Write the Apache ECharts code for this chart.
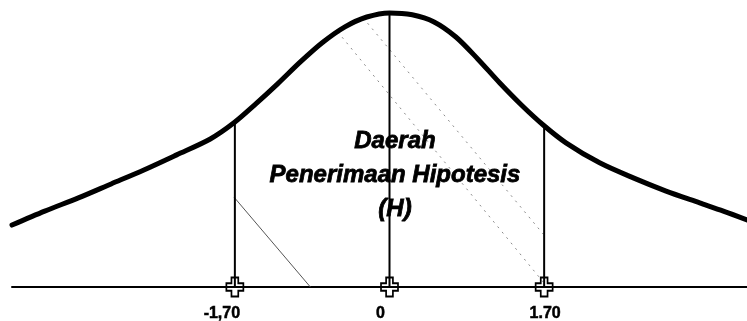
<!DOCTYPE html>
<html>
<head>
    <meta charset="utf-8">
    <title>Daerah Penerimaan Hipotesis</title>
    <script src="https://cdn.jsdelivr.net/npm/echarts@6/dist/echarts.min.js"></script>
    <style>
        *{
            padding: 0;
            margin: 0;
        }
        html, body{
            width: 100%;
            height: 100%;
            background: #fff;
        }
        #chart{
            width: 747px;
            height: 321px;
        }
    </style>
</head>
<body>
<div id="chart"></div>
<script>
    // kurva (nilai z, tinggi relatif, puncak = 100)
    var curveZ = [-4.15, -3.79, -3.42, -3.06, -2.70, -2.34, -1.97, -1.71, -1.47, -1.23, -0.98, -0.74, -0.49, -0.25, 0,
                  0.25, 0.49, 0.73, 0.97, 1.21, 1.45, 1.69, 1.94, 2.31, 2.68, 3.04, 3.41, 3.67, 3.93];
    var curveH = [22.6, 27.7, 32.5, 37.6, 42.7, 48.2, 54.0, 59.9, 66.8, 74.1, 82.1, 89.1, 94.9, 98.5, 100,
                  99.3, 96.7, 91.2, 83.2, 74.5, 66.4, 59.1, 52.6, 45.3, 39.8, 35.0, 30.7, 27.7, 24.5];

    // garis batas: nilai kritis dan label
    var critZ = [-1.70, 0, 1.70];
    var critH = [60.2, 100, 58.8];
    var critLabels = ['-1,70', '0', '1.70'];

    // garis arsir [z1, h1, z2, h2]
    var hatchSegs = [
        [-1.71, 32.8, -0.87, 0],
        [-0.57, 93.1, 1.69, 1.8],
        [-0.29, 98.2, 1.69, 19.3]
    ];

    var areaText = ['Daerah', 'Penerimaan Hipotesis', '(H)'];
    var areaPos = [0.06, 40.9];

    var labelShift = [-13, -9, 1];   // geser label di bawah sumbu (px)
    var hatchStyle = [
        {color: '#555', width: 1, type: 'solid'},
        {color: '#8a8a8a', width: 1, type: [2, 5]},
        {color: '#8a8a8a', width: 1, type: [2, 5]}
    ];

    var chart = echarts.init(document.getElementById('chart'));

    var curveData = [];
    for (var i = 0; i < curveZ.length; i++) curveData.push([curveZ[i], curveH[i]]);

    var series = [];

    // arsir
    for (var k = 0; k < hatchSegs.length; k++) {
        var s = hatchSegs[k];
        series.push({
            type: 'line',
            data: [[s[0], s[1]], [s[2], s[3]]],
            symbol: 'none',
            silent: true,
            z: 1,
            lineStyle: hatchStyle[k]
        });
    }

    // garis vertikal
    for (var j = 0; j < critZ.length; j++) {
        series.push({
            type: 'line',
            data: [[critZ[j], 0], [critZ[j], critH[j]]],
            symbol: 'none',
            silent: true,
            z: 2,
            lineStyle: {color: '#000', width: 2}
        });
    }

    // kurva normal
    series.push({
        type: 'line',
        data: curveData,
        smooth: 0.3,
        symbol: 'none',
        z: 3,
        lineStyle: {color: '#000', width: 5, cap: 'round'}
    });

    // penanda dan label
    var markData = [];
    for (var m = 0; m < critZ.length; m++) {
        markData.push({
            value: [critZ[m], 0],
            label: {
                show: true,
                position: 'bottom',
                distance: 8,
                offset: [labelShift[m], 0],
                formatter: critLabels[m]
            }
        });
    }
    series.push({
        type: 'scatter',
        data: markData,
        symbol: 'path://M3,0 H7 V3 H10 V7 H7 V10 H3 V7 H0 V3 H3 Z',
        symbolSize: [17, 19],
        z: 4,
        itemStyle: {color: 'rgba(0,0,0,0)', borderColor: '#000', borderWidth: 1.8, opacity: 1},
        label: {
            color: '#000',
            fontFamily: 'Liberation Sans, Arial, sans-serif',
            fontWeight: 'bold',
            fontSize: 16,
            textBorderColor: '#000',
            textBorderWidth: 0.5
        }
    });

    // teks daerah penerimaan
    series.push({
        type: 'scatter',
        data: [areaPos],
        symbolSize: 0,
        z: 5,
        itemStyle: {opacity: 1},
        label: {
            show: true,
            position: 'inside',
            formatter: areaText.join('\n'),
            color: '#000',
            fontFamily: 'Liberation Sans, Arial, sans-serif',
            fontWeight: 'bold',
            fontStyle: 'italic',
            fontSize: 24,
            lineHeight: 34,
            align: 'center',
            textBorderColor: '#000',
            textBorderWidth: 0.8
        }
    });

    chart.setOption({
        animation: false,
        grid: {left: 12, right: 0, top: 0, bottom: 34},
        xAxis: {
            type: 'value',
            min: -4.15,
            max: 3.93,
            axisLine: {show: true, onZero: false, lineStyle: {color: '#000', width: 2}},
            axisTick: {show: false},
            axisLabel: {show: false},
            splitLine: {show: false}
        },
        yAxis: {
            type: 'value',
            min: 0,
            max: 104.7,
            show: false
        },
        series: series
    });
</script>
</body>
</html>
